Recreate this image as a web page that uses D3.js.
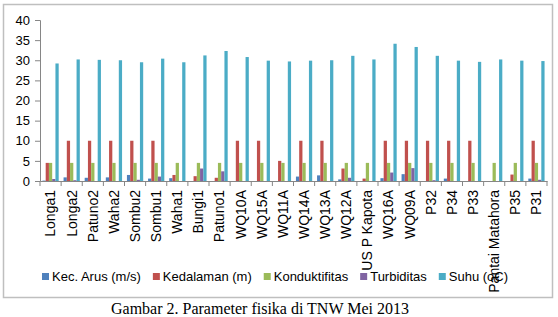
<!DOCTYPE html>
<html>
<head>
<meta charset="utf-8">
<script src="https://cdn.jsdelivr.net/npm/d3@7"></script>
<style>
	body { margin: 0; background: #fff; }
	#chart { width: 558px; height: 317px; }
	text { font-family: "Liberation Sans", Arial, sans-serif; }
</style>
</head>
<body>
<div id="chart"></div>
<script>
// station names on the x axis
const categories = [
	"Longa1", "Longa2", "Patuno2", "Waha2", "Sombu2", "Sombu1", "Waha1",
	"Bungi1", "Patuno1", "WQ10A", "WQ15A", "WQ11A", "WQ14A", "WQ13A",
	"WQ12A", "US P Kapota", "WQ16A", "WQ09A", "P32", "P34", "P33",
	"Pantai Matahora", "P35", "P31",
];

// values, one per station
const kecArus = [0.1, 0.9, 0.8, 0.9, 1.5, 0.6, 0.7, 0, 0, 0, 0, 0, 1.1, 1.4, 0.4, 0, 0.7, 1.7, 0, 0.6, 0, 0, 0, 0.6];
const kedalaman = [4.5, 10, 10, 10, 10, 10, 1.5, 1.2, 0.8, 10, 10, 5, 10, 10, 3.1, 0.6, 10, 10, 10, 10, 10, 0, 1.6, 10];
const konduktifitas = [4.5, 4.5, 4.5, 4.5, 4.5, 4.5, 4.5, 4.5, 4.5, 4.5, 4.5, 4.5, 4.5, 4.5, 4.5, 4.5, 4.5, 4.5, 4.5, 4.5, 4.5, 4.5, 4.5, 4.5];
const turbiditas = [0.5, 0.2, 0, 0, 0.3, 1.1, 0, 3.1, 2.4, 0, 0, 0, 0, 0, 0.8, 0, 2.1, 3.2, 0.2, 0, 0, 0, 0, 0.3];
const suhu = [29.2, 30.2, 30.1, 30.0, 29.5, 30.4, 29.5, 31.2, 32.3, 30.8, 29.9, 29.7, 29.9, 30.0, 31.1, 30.2, 34.1, 33.3, 31.1, 29.9, 29.6, 30.2, 29.9, 29.8];

const seriesNames = ["Kec. Arus (m/s)", "Kedalaman (m)", "Konduktifitas", "Turbiditas", "Suhu (oC)"];
const seriesValues = [kecArus, kedalaman, konduktifitas, turbiditas, suhu];
const yTicks = [0, 5, 10, 15, 20, 25, 30, 35, 40];

const colors = ["#4F81BD", "#C0504D", "#9BBB59", "#8064A2", "#4BACC6"];

const width = 558;
const height = 317;
const margin = { top: 20, right: 11, bottom: 136, left: 40 };

const svg = d3
	.select("#chart")
	.append("svg")
	.attr("width", width)
	.attr("height", height);

// outer frame of the chart object
svg
	.append("rect")
	.attr("x", 3.5)
	.attr("y", 4.5)
	.attr("width", 549)
	.attr("height", 293)
	.attr("fill", "none")
	.attr("stroke", "#BFBFBF")
	.attr("stroke-width", 1.5);

const x = d3
	.scaleBand()
	.domain(categories)
	.range([margin.left, width - margin.right])
	.paddingInner(0)
	.paddingOuter(0);

// bars inside each group (excel gap width 150%)
const xInner = d3
	.scaleBand()
	.domain(seriesNames)
	.range([0, x.bandwidth()])
	.paddingInner(0)
	.paddingOuter(0.75);

const y = d3
	.scaleLinear()
	.domain([0, 40])
	.range([height - margin.bottom, margin.top]);

const rows = categories.map((c, i) => ({
	name: c,
	values: seriesNames.map((s, j) => ({ series: s, value: seriesValues[j][i], color: colors[j] })),
}));

const groups = svg
	.selectAll(".group")
	.data(rows)
	.join("g")
	.attr("class", "group")
	.attr("transform", (d) => `translate(${x(d.name)}, 0)`);

groups
	.selectAll("rect")
	.data((d) => d.values)
	.join("rect")
	.attr("x", (d) => xInner(d.series))
	.attr("y", (d) => y(d.value))
	.attr("width", xInner.bandwidth())
	.attr("height", (d) => y(0) - y(d.value))
	.attr("fill", (d) => d.color);

// y axis
const yAxis = svg
	.append("g")
	.attr("class", "y_axis")
	.attr("transform", `translate(${margin.left}, 0)`)
	.call(d3.axisLeft(y).tickValues(yTicks).tickSize(5).tickPadding(5));

// x axis, ticks on the category boundaries
const xAxis = svg
	.append("g")
	.attr("class", "x_axis")
	.attr("transform", `translate(0, ${y(0)})`)
	.call(d3.axisBottom(x).tickSize(0).tickPadding(0));

xAxis
	.selectAll(".boundary")
	.data(d3.range(categories.length + 1))
	.join("line")
	.attr("class", "boundary")
	.attr("x1", (i) => margin.left + i * x.step())
	.attr("x2", (i) => margin.left + i * x.step())
	.attr("y1", 0)
	.attr("y2", 5)
	.attr("stroke", "#868686");

[yAxis, xAxis].forEach((g) => {
	g.select(".domain").attr("stroke", "#868686");
	g.selectAll(".tick line").attr("stroke", "#868686");
	g.selectAll("text").attr("font-size", "13px").attr("fill", "#000");
});

xAxis
	.selectAll(".tick text")
	.attr("font-size", "14px")
	.attr("text-anchor", "end")
	.attr("dy", "0.35em")
	.attr("transform", "translate(0, 9) rotate(-90)");

// legend
const legend = svg.append("g").attr("class", "legend");
let lx = 42;
seriesNames.forEach((s, i) => {
	legend
		.append("rect")
		.attr("x", lx)
		.attr("y", 273)
		.attr("width", 7)
		.attr("height", 7)
		.attr("fill", colors[i]);
	const t = legend
		.append("text")
		.attr("x", lx + 10)
		.attr("y", 281)
		.attr("font-size", "13px")
		.text(s);
	lx += 10 + t.node().getComputedTextLength() + 12;
});

// put the rotated labels over the legend, as in the original
xAxis.raise();

// caption below the chart
svg
	.append("text")
	.attr("x", 260)
	.attr("y", 314)
	.attr("text-anchor", "middle")
	.attr("font-size", "16px")
	.style("font-family", "'Liberation Serif', 'Times New Roman', serif")
	.text("Gambar 2. Parameter fisika di TNW Mei 2013");
</script>
</body>
</html>
